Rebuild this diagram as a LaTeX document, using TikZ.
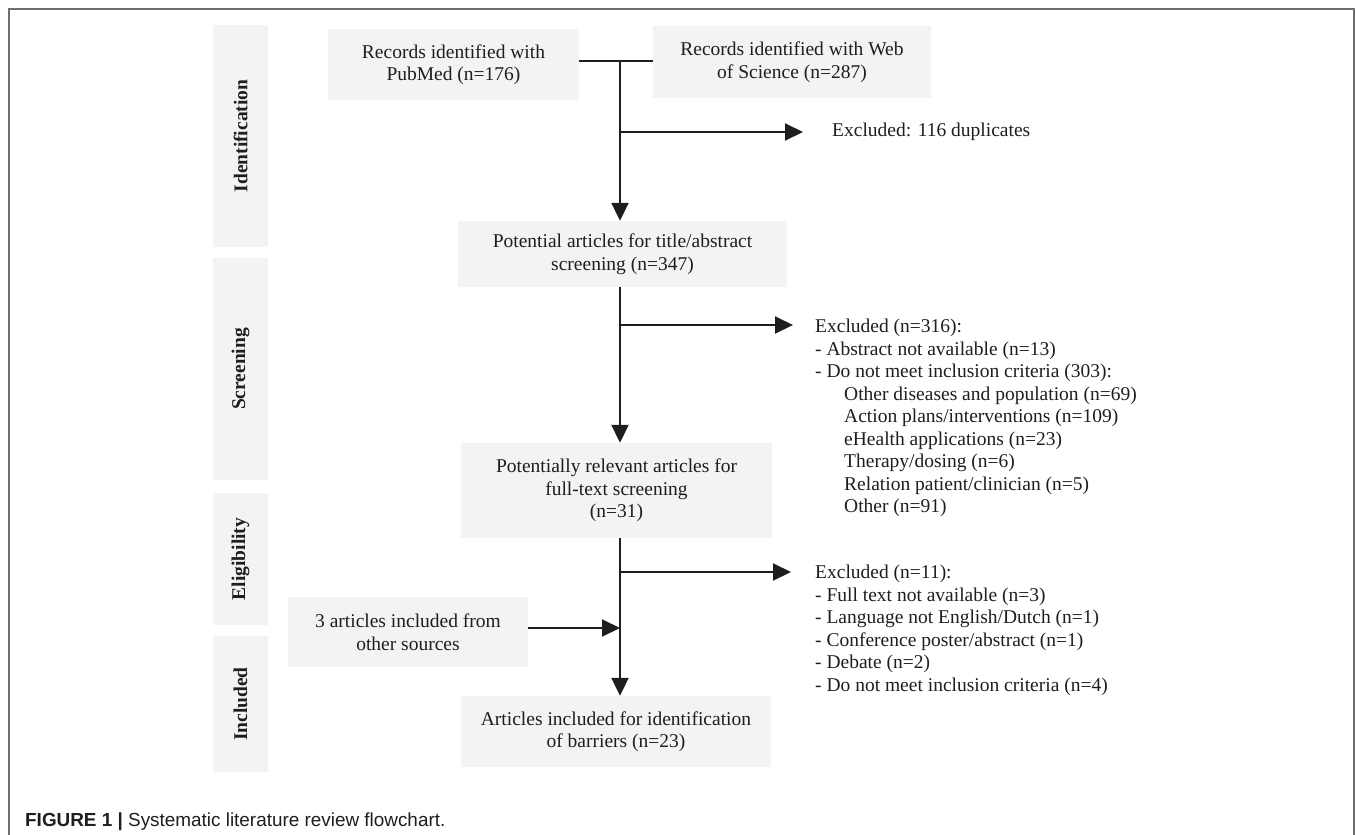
\documentclass[tikz,border=0pt]{standalone}
\usepackage{fontspec}
\setmainfont{Liberation Serif}
\newfontfamily\capfont{Liberation Sans}
\usepackage{graphicx}
\usetikzlibrary{arrows.meta}
\definecolor{boxgray}{HTML}{F3F3F3}
\definecolor{ink}{HTML}{1E1E1E}
\definecolor{framegray}{HTML}{6E6E6E}
\begin{document}
\begin{tikzpicture}[x=1pt,y=-1pt,
  every node/.style={text=ink},
  flowbox/.style={fill=boxgray, draw=none, align=center, inner sep=0pt, font=\fontsize{19.5}{22.5}\selectfont},
  stagebox/.style={fill=boxgray, draw=none, minimum width=55pt, inner sep=0pt, font=\bfseries\fontsize{19.5}{22.5}\selectfont},
  exnote/.style={anchor=north west, align=left, inner sep=0pt, font=\fontsize{19.5}{22.5}\selectfont},
  conn/.style={draw=ink, line width=2pt},
  arr/.style={conn, -{Triangle[length=18pt,width=17pt]}}
]
\useasboundingbox (0,0) rectangle (1355,835);

% outer frame
\draw[framegray, line width=1.5pt] (9,840) -- (9,9) -- (1354,9) -- (1354,840);

% stage labels
\node[stagebox, minimum height=222pt] (sid) at (240.5,136) {\rotatebox{90}{Identification}};
\node[stagebox, minimum height=222pt] (ssc) at (240.5,369) {\rotatebox{90}{Screening}};
\node[stagebox, minimum height=132pt] (sel) at (240.5,559) {\rotatebox{90}{Eligibility}};
\node[stagebox, minimum height=136pt] (sin) at (240.5,704) {\rotatebox{90}{Included}};

% flow boxes
\node[flowbox, minimum width=251pt, minimum height=71pt] (pub) at (453.5,64.5) {Records identified with\\PubMed (n=176)};
\node[flowbox, minimum width=278pt, minimum height=72pt] (wos) at (792,62) {Records identified with Web\\of Science (n=287)};
\node[flowbox, minimum width=329pt, minimum height=66pt] (pot) at (622.5,254) {Potential articles for title/abstract\\screening (n=347)};
\node[flowbox, minimum width=311pt, minimum height=95pt] (rel) at (616.5,490.5) {Potentially relevant articles for\\full-text screening\\(n=31)};
\node[flowbox, minimum width=240pt, minimum height=70pt] (oth) at (408,632) {3 articles included from\\other sources};
\node[flowbox, minimum width=310pt, minimum height=71pt] (inc) at (616,731.5) {Articles included for identification\\of barriers (n=23)};

% exclusion notes
\node[exnote, anchor=west] (x1) at (832,132) {Excluded: 116 duplicates};
\node[exnote] (x2) at (815,319) {Excluded (n=316):\\
- Abstract not available (n=13)\\
- Do not meet inclusion criteria (303):\\
\hspace*{29pt}Other diseases and population (n=69)\\
\hspace*{29pt}Action plans/interventions (n=109)\\
\hspace*{29pt}eHealth applications (n=23)\\
\hspace*{29pt}Therapy/dosing (n=6)\\
\hspace*{29pt}Relation patient/clinician (n=5)\\
\hspace*{29pt}Other (n=91)};
\node[exnote] (x3) at (815,565) {Excluded (n=11):\\
- Full text not available (n=3)\\
- Language not English/Dutch (n=1)\\
- Conference poster/abstract (n=1)\\
- Debate (n=2)\\
- Do not meet inclusion criteria (n=4)};

% junctions
\coordinate (m0) at (620,61);
\coordinate (j1) at (620,132);
\coordinate (e1) at (803,132);
\coordinate (j2) at (620,325);
\coordinate (e2) at (793,325);
\coordinate (j3) at (620,572);
\coordinate (e3) at (791,572);
\coordinate (j4) at (620,628);

% connectors
\draw[conn] (pub.east |- m0) -- (wos.west |- m0);
\draw[arr] (m0) -- (m0 |- pot.north);
\draw[arr] (j1) -- (e1);
\draw[arr] (pot.south -| m0) -- (m0 |- rel.north);
\draw[arr] (j2) -- (e2);
\draw[arr] (rel.south -| m0) -- (m0 |- inc.north);
\draw[arr] (j3) -- (e3);
\draw[arr] (oth.east |- j4) -- (j4);

% caption
\node[anchor=base west, inner sep=0pt, font=\capfont\fontsize{18.9}{22}\selectfont] (cap) at (25,826) {\textbf{FIGURE 1 |} Systematic literature review flowchart.};
\end{tikzpicture}
\end{document}
